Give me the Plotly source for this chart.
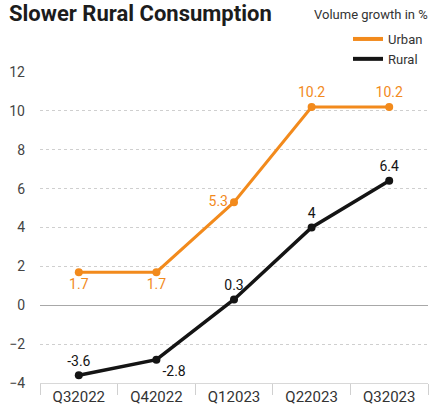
import plotly.graph_objects as go

quarters = ["Q32022", "Q42022", "Q12023", "Q22023", "Q32023"]
urban = [1.7, 1.7, 5.3, 10.2, 10.2]
rural = [-3.6, -2.8, 0.3, 4, 6.4]
urban_labels = ["1.7", "1.7", "5.3", "10.2", "10.2"]
rural_labels = ["-3.6", "-2.8", "0.3", "4", "6.4"]
y_ticks = [-4, -2, 0, 2, 4, 6, 8, 10, 12]

ORANGE = "#F28A1C"
BLACK = "#141414"

fig = go.Figure()
fig.add_trace(go.Scatter(
    x=quarters, y=urban, mode="lines+markers+text",
    line=dict(color=ORANGE, width=3), marker=dict(color=ORANGE, size=8),
    text=urban_labels,
    textposition=["bottom center", "bottom center", "middle left", "top center", "top center"],
    textfont=dict(family="Roboto", size=14, color=ORANGE),
    showlegend=False, cliponaxis=False,
))
fig.add_trace(go.Scatter(
    x=quarters, y=rural, mode="lines+markers+text",
    line=dict(color=BLACK, width=3.5), marker=dict(color=BLACK, size=8),
    text=rural_labels,
    textposition=["top center", "bottom right", "top center", "top center", "top center"],
    textfont=dict(family="Roboto", size=14, color=BLACK),
    showlegend=False, cliponaxis=False,
))
# legend entries
fig.add_trace(go.Scatter(x=[None], y=[None], mode="lines", name="Urban",
                         line=dict(color=ORANGE, width=4)))
fig.add_trace(go.Scatter(x=[None], y=[None], mode="lines", name="Rural",
                         line=dict(color=BLACK, width=4)))

fig.update_layout(
    width=432, height=416,
    margin=dict(l=40, r=4, t=72, b=33),
    paper_bgcolor="white", plot_bgcolor="white",
    title=dict(text="<b>Slower Rural Consumption</b>", xref="container", x=9/432,
               yref="container", y=1-13/416, yanchor="middle", xanchor="left",
               font=dict(family="Roboto", size=22, color="#1c1c1c")),
    legend=dict(x=1, xanchor="right", y=1+48/311, yanchor="top",
                font=dict(family="Roboto", size=13, color="#333"),
                bgcolor="rgba(0,0,0,0)", tracegroupgap=0, itemwidth=30),
    xaxis=dict(type="category", categoryorder="array", categoryarray=quarters,
               range=[-0.5, 4.5], tickson="boundaries", ticks="outside", ticklen=11,
               tickcolor="#d0d0d0", showline=True, linecolor="#d8d8d8", linewidth=1,
               showgrid=False, tickfont=dict(family="Roboto", size=15, color="#333")),
    yaxis=dict(range=[-4, 12], tickvals=y_ticks, showgrid=True, gridcolor="#cfcfcf",
               griddash="dot", gridwidth=1, zeroline=True, zerolinecolor="#a8a8a8",
               zerolinewidth=1, ticks="", ticklabelstandoff=14,
               tickfont=dict(family="Roboto", size=14, color="#444")),
    annotations=[dict(text="Volume growth in %", xref="paper", yref="paper",
                      x=1, xanchor="right", xshift=2, y=(416-33-14)/311, yanchor="middle",
                      showarrow=False, font=dict(family="Roboto", size=13, color="#333"))],
)

fig.write_html("out.html", config={"displayModeBar": False},
               post_script="document.body.style.margin='0';")
